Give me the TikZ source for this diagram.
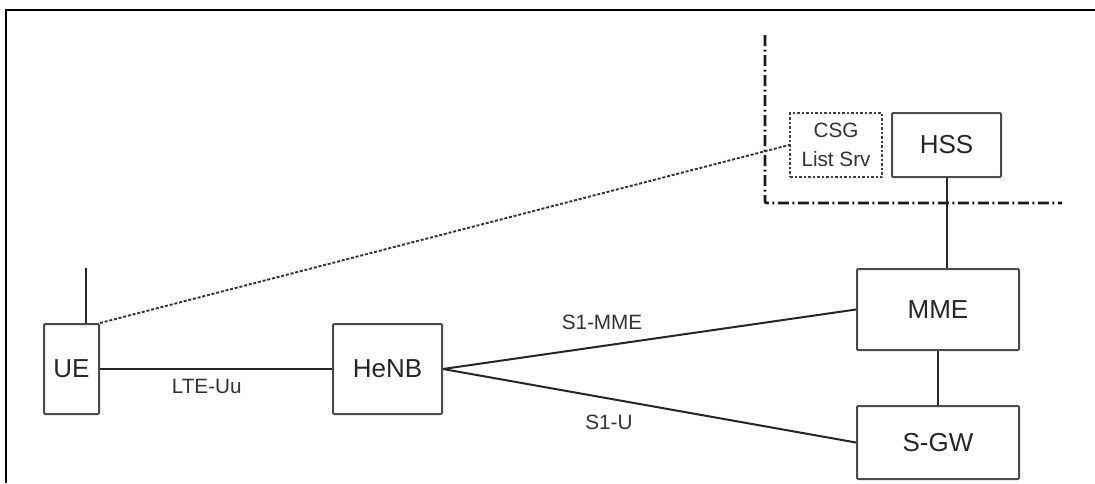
\documentclass[tikz,border=0pt]{standalone}
\usepackage{fontspec}
\setmainfont{Liberation Sans}
\usetikzlibrary{positioning}

\begin{document}
\begin{tikzpicture}[
    x=1pt,y=-1pt,
    font=\fontsize{26}{30}\selectfont,
    entity/.style={draw=black!70,line width=2pt,rounded corners=1pt,inner sep=0pt,text=black!85},
    server/.style={draw=black!75,line width=1.8pt,dash pattern=on 2.5pt off 2pt,inner sep=0pt,align=center,
      text=black!80,font=\fontsize{20.7}{29}\selectfont},
    iface/.style={text=black!80,font=\fontsize{20.7}{24}\selectfont},
    link/.style={draw=black!85,line width=2pt},
    signal/.style={draw=black!80,line width=1.9pt,dash pattern=on 3pt off 1.8pt},
    boundary/.style={draw=black!90,line width=2.8pt,dash pattern=on 11pt off 3.5pt on 2pt off 3.5pt,rounded corners=2pt},
    frame/.style={draw=black,line width=1.8pt}
  ]
    \useasboundingbox (0,0) rectangle (1095,483);
    \draw[frame] (6,483) -- (6,10) -- (1095,10);

    % network elements
    \node[entity,minimum width=55,minimum height=90] (ue) at (71.5,369) {UE};
    \node[entity,minimum width=109,minimum height=90] (henb) at (387.5,369) {HeNB};
    \node[entity,minimum width=162,minimum height=81] (mme) at (938,309.5) {MME};
    \node[entity,minimum width=162,minimum height=73] (sgw) at (938,442.5) {S-GW};
    \node[entity,minimum width=109,minimum height=64] (hss) at (946.5,145) {HSS};
    \node[server,minimum width=92,minimum height=64] (csg) at (836,145) {CSG\\List Srv};

    % operator domain boundary
    \coordinate (bdtop) at (765,35);
    \coordinate (bdcorner) at (765,203);
    \coordinate (bdend) at (1062,203);
    \draw[boundary] (bdtop) -- (bdcorner) -- (bdend);

    % antenna
    \coordinate (antenna) at (86,268);
    \draw[link] (antenna) -- (antenna |- ue.north);

    % interfaces
    \draw[link] (ue.east) -- (henb.west)
      node[iface,pos=0.46,below=6pt] (uu) {LTE-Uu};
    \draw[link] (henb.east) -- (mme.west);
    \draw[link] (henb.east) -- (sgw.west);
    \node[iface] (s1mme) at (602,322) {S1-MME};
    \node[iface] (s1u) at (609,422) {S1-U};
    \draw[link] (mme.south) -- (sgw.north);
    \draw[link] (hss.south) -- (hss.south |- mme.north);
    \draw[signal] (ue.north east) -- (csg.west);
  \end{tikzpicture}
\end{document}
